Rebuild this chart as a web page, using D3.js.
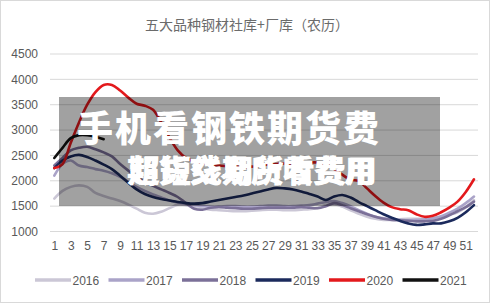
<!DOCTYPE html>
<html>
<head>
<meta charset="utf-8">
<script src="https://cdn.jsdelivr.net/npm/d3@7"></script>
<style>
  body { margin: 0; background: #fff; }
  svg { display: block; }
</style>
</head>
<body>
<div id="chart"></div>
<script>
// weeks of the lunar year
var weeks = d3.range(1, 53);
var yTicks = [1000, 1500, 2000, 2500, 3000, 3500, 4000, 4500];
var years = ["2016", "2017", "2018", "2019", "2020", "2021"];

var s2016 = [1650,1800,1880,1910,1880,1760,1700,1650,1600,1530,1450,1370,1350,1390,1460,1530,1520,1480,1450,1430,1420,1410,1400,1400,1410,1420,1430,1430,1420,1420,1430,1440,1470,1520,1540,1490,1420,1350,1290,1250,1230,1230,1240,1250,1250,1250,1260,1280,1330,1380,1480,1620];
var s2017 = [2100,2330,2400,2300,2270,2230,2200,2150,2080,1980,1880,1800,1730,1670,1610,1570,1540,1520,1500,1490,1490,1500,1500,1490,1490,1500,1510,1510,1500,1500,1510,1520,1550,1580,1600,1560,1500,1420,1350,1290,1260,1240,1230,1220,1230,1240,1260,1300,1370,1450,1560,1690];
var s2018 = [2300,2450,2600,2650,2670,2620,2560,2480,2330,2200,2080,1980,1900,1830,1760,1680,1560,1450,1430,1470,1480,1470,1460,1450,1450,1460,1470,1470,1470,1470,1480,1470,1460,1500,1560,1520,1460,1400,1340,1290,1250,1230,1220,1210,1200,1200,1210,1250,1320,1400,1480,1590];
var s2019 = [2250,2400,2480,2510,2470,2400,2320,2230,2100,1960,1830,1740,1680,1640,1610,1580,1560,1550,1560,1590,1620,1650,1680,1710,1750,1790,1830,1860,1850,1830,1790,1740,1690,1620,1690,1720,1670,1580,1500,1420,1340,1270,1210,1160,1130,1140,1160,1160,1200,1270,1380,1520];
var s2020 = [2250,2330,2750,3150,3500,3750,3890,3890,3780,3640,3520,3480,3400,3150,2850,2600,2450,2380,2350,2320,2300,2290,2280,2270,2280,2300,2320,2330,2340,2340,2350,2360,2360,2330,2230,2120,2020,2000,1850,1700,1570,1480,1440,1420,1340,1290,1310,1380,1470,1590,1780,2030];
var s2021 = [2450,2650,2840,2900,2900,2870,2820];

var seriesValues = [s2016, s2017, s2018, s2019, s2020, s2021];
var colors = ["#cbc7d6", "#aaa3c8", "#7b7098", "#1b2a5c", "#e3191c", "#111111"];

var W = 500, H = 304;

var svg = d3.select("#chart")
  .append("svg")
    .attr("width", W)
    .attr("height", H);

// chart border
svg.append("rect")
  .attr("x", 0.5).attr("y", 0.5)
  .attr("width", 489).attr("height", 302)
  .attr("fill", "#fff")
  .attr("stroke", "#d9d9d9");

var x = d3.scalePoint()
  .domain(weeks)
  .range([54.3, 474]);

var y = d3.scaleLinear()
  .domain([1000, 4500])
  .range([231.5, 54]);

// title
svg.append("text")
  .attr("x", 247).attr("y", 30)
  .attr("text-anchor", "middle")
  .style("font-family", "'Noto Sans CJK SC', sans-serif")
  .style("font-size", "14px")
  .style("fill", "#6b6b6b")
  .text("五大品种钢材社库+厂库（农历）");

// gridlines
svg.append("g")
  .selectAll("line")
  .data(yTicks)
  .enter().append("line")
    .attr("x1", 50).attr("x2", 478)
    .attr("y1", function(d) { return y(d); })
    .attr("y2", function(d) { return y(d); })
    .attr("stroke", "#d9d9d9")
    .attr("stroke-width", 1);

// y axis labels
var yAxis = svg.append("g")
  .attr("transform", "translate(40,0)")
  .call(d3.axisLeft(y).tickValues(yTicks).tickFormat(d3.format("d")).tickSize(0).tickPadding(2));
yAxis.select(".domain").remove();
yAxis.selectAll("text")
  .style("font-family", "'Liberation Sans', sans-serif")
  .style("font-size", "12px")
  .style("fill", "#595959");

// x axis labels
var xAxis = svg.append("g")
  .attr("transform", "translate(0,238)")
  .call(d3.axisBottom(x).tickValues(weeks.filter(function(d) { return d % 2 == 1; })).tickSize(0));
xAxis.select(".domain").remove();
xAxis.selectAll("text")
  .style("font-family", "'Liberation Sans', sans-serif")
  .style("font-size", "12px")
  .style("fill", "#595959");

// lines
var line = d3.line()
  .x(function(d, i) { return x(weeks[i]); })
  .y(function(d) { return y(d); })
  .curve(d3.curveCatmullRom.alpha(0.5));

svg.append("g")
  .selectAll("path")
  .data(seriesValues)
  .enter().append("path")
    .attr("d", line)
    .attr("fill", "none")
    .attr("stroke", function(d, i) { return colors[i]; })
    .attr("stroke-width", 2.6)
    .attr("stroke-linejoin", "round")
    .attr("stroke-linecap", "round");

// legend
var legend = svg.append("g")
  .selectAll("g")
  .data(years)
  .enter().append("g")
    .attr("transform", function(d, i) { return "translate(" + (35 + i * 73.5) + ",280)"; });

legend.append("line")
  .attr("x1", 0).attr("x2", 36)
  .attr("stroke", function(d, i) { return colors[i]; })
  .attr("stroke-width", 3.5);

legend.append("text")
  .attr("x", 37.5)
  .attr("y", 4.5)
  .style("font-family", "'Liberation Sans', sans-serif")
  .style("font-size", "12px")
  .style("fill", "#595959")
  .text(function(d) { return d; });

// watermark banner on top
svg.append("rect")
  .attr("x", 59).attr("y", 97)
  .attr("width", 381).attr("height", 109)
  .attr("fill", "rgba(0,0,0,0.37)");

var wm = svg.append("g")
  .style("font-family", "'Noto Sans CJK SC', sans-serif")
  .style("font-weight", "900")
  .style("fill", "#fff");

wm.append("text")
  .attr("x", 77).attr("y", 142)
  .style("font-size", "36px")
  .style("letter-spacing", "2px")
  .text("手机看钢铁期货费");

// the reference shows two captions printed over each other on this line
wm.append("text")
  .attr("x", 127).attr("y", 182)
  .style("font-size", "31px")
  .text("期货交易所收费用");

wm.append("text")
  .attr("x", 129).attr("y", 182)
  .style("font-size", "31px")
  .text("超短线期货看费用");
</script>
</body>
</html>
